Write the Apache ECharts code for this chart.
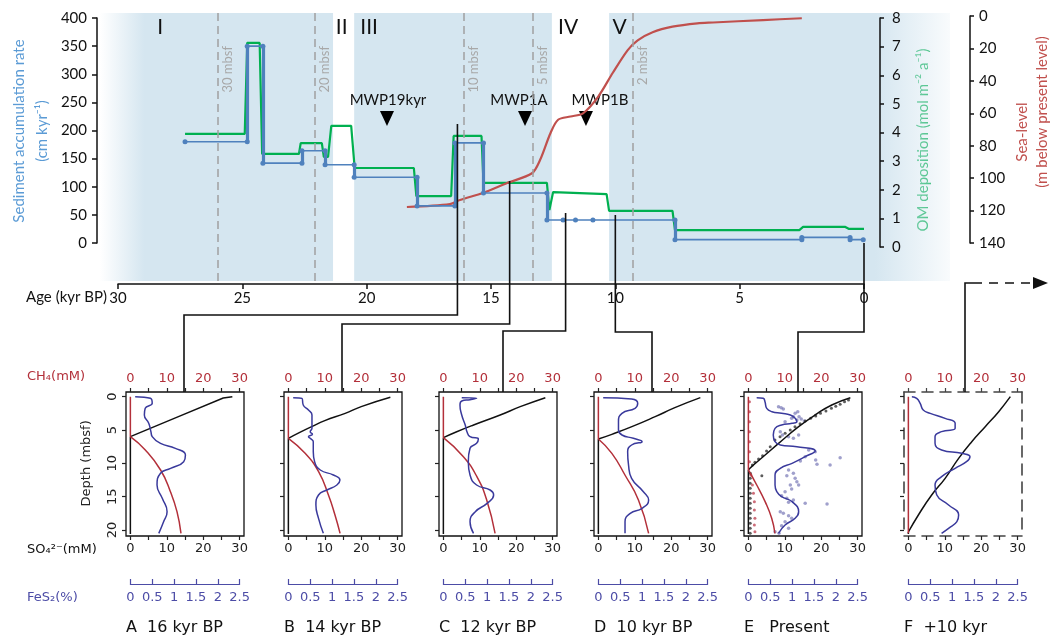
<!DOCTYPE html>
<html><head><meta charset="utf-8">
<script src="https://cdn.jsdelivr.net/npm/echarts@6/dist/echarts.min.js"></script>
<style>html,body{margin:0;padding:0;background:#fff}#c{width:1050px;height:641px}</style>
</head><body><div id="c"></div>
<script>
// ===================== DATA =====================
// Top panel (age kyr BP, value)
const sedRate = [[27.3,180],[24.8,180],[24.8,350],[24.17,350],[24.17,142],[22.6,142],[22.6,164],[21.67,164],[21.67,139],[20.5,139],[20.5,117],[17.97,117],[17.97,66],[16.45,66],[16.45,178],[15.3,178],[15.3,89],[12.75,89],[12.75,41],[12.1,41],[11.6,41],[10.9,41],[7.6,41],[7.6,6],[2.5,6],[2.5,10],[0.56,10],[0.56,6],[0.03,6]];
const omDeposition = [[27.3,3.95],[24.9,3.95],[24.8,7.13],[24.3,7.13],[24.2,3.25],[22.72,3.25],[22.65,3.63],[21.8,3.63],[21.72,3.15],[21.55,3.15],[21.42,4.23],[20.62,4.23],[20.48,2.76],[18.1,2.76],[18.0,1.78],[16.6,1.78],[16.5,3.88],[15.38,3.88],[15.3,2.24],[12.75,2.24],[12.65,1.29],[12.5,1.92],[10.35,1.85],[10.25,1.26],[7.7,1.26],[7.6,0.59],[2.6,0.59],[2.45,0.70],[0.75,0.70],[0.6,0.63],[0.0,0.63]];
const seaLevel = [[18.38,117.8],[16.65,116],[16.25,113.5],[15.3,109],[14.35,103],[13.35,97],[13.03,89],[12.6,72],[12.3,64],[11.8,62],[11.3,60],[10.7,50],[10.1,35],[9.5,21],[9.1,15],[8.5,10],[7.7,6.6],[6.7,4.5],[6.07,4.0],[4.06,2.5],[2.5,1.4]];
const ageTicks = [0,5,10,15,20,25,30];
const periodNames = ['I','II','III','IV','V'];
const periodAges = [28.3,21.0,19.9,11.9,9.83];
const shadedPeriods = [[30.72,21.35],[20.5,12.55],[10.25,-3.46]];
const depthMarkerAges = [26.0,22.1,16.08,13.3,9.29];
const depthMarkerLabels = ['30 mbsf','20 mbsf','10 mbsf','5 mbsf','2 mbsf'];
const mwpNames = ['MWP19kyr','MWP1A','MWP1B'];
const mwpAges = [19.18,13.63,11.18];

// Bottom panels ([value, depth mbsf])
const panelTitles = ['A  16 kyr BP','B  14 kyr BP','C  12 kyr BP','D  10 kyr BP','E   Present','F  +10 kyr'];
const panelAges = [16.35,14.25,12.0,10.0,0.0,null];
const coreDepth = 20.6;
const so4A = [[28,0],[25.5,0.2],[12.7,3.1],[0,6]];
const so4B = [[28,0.1],[20,1.5],[15.6,2.5],[10,3.6],[6.4,4.5],[3,5.4],[0,6.25]];
const so4C = [[28,0.15],[21.1,1.5],[15.6,2.75],[8.3,4.25],[3.5,5.3],[0,6.15]];
const so4D = [[28,0.15],[21,1.65],[15.6,3],[9.2,4.5],[3.7,5.65],[0,6.35]];
const so4E = [[28,0.15],[22.9,1.25],[18.3,2.75],[13.8,4.5],[8.3,7],[4.6,8.75],[0.9,10.5],[0,11]];
const so4F = [[28,0],[24.8,2.25],[21.1,4.5],[17.4,6.75],[13.8,9.25],[10.1,12.25],[6.4,14.75],[2.75,17.75],[0,20.3]];
const ch4A = [[0,6],[4.1,8],[8.3,11],[11,14.25],[12.8,17.25],[13.9,20.5]];
const ch4B = [[0,6.25],[4.6,8.5],[8.3,11.25],[11,14.75],[12.8,17.75],[14.2,20.5]];
const ch4C = [[0,6.15],[5.5,9],[9.2,12],[11.9,15.5],[14.2,20.5]];
const ch4D = [[0,6.35],[3.7,8.5],[7.3,11.75],[11,15.5],[13.8,20.5]];
const ch4E = [[0,11],[2.3,13.25],[4.6,15.75],[6.4,18.25],[7.3,20.5]];
const ch4F = [[0,20.3],[0,20.5]];
const fesA = [[0.11,0],[0.46,0.25],[0.5,1],[0.34,1.75],[0.32,2.75],[0.42,4],[0.47,5.25],[0.5,6],[0.69,7],[1.03,7.75],[1.26,8.75],[1.22,9.75],[0.92,10.75],[0.69,11.5],[0.61,13.25],[0.73,15.25],[0.84,17.25],[0.76,18.75],[0.65,20.5]];
const fesB = [[0.11,0.15],[0.31,0.25],[0.34,1.25],[0.46,2],[0.54,2.75],[0.54,3.75],[0.54,4.75],[0.5,5.25],[0.55,5.65],[0.46,6],[0.5,6.25],[0.57,6.75],[0.57,8.25],[0.6,9.75],[0.73,11],[1.03,11.75],[1.18,12.5],[1.11,13.25],[0.88,14],[0.69,14.75],[0.63,16.25],[0.69,18.25],[0.8,20.5]];
const fesC = [[0.42,0.15],[0.76,0.25],[0.61,0.45],[0.42,0.65],[0.38,1.25],[0.42,2.75],[0.5,4.25],[0.54,5.25],[0.61,6],[0.8,6.35],[0.76,7],[0.61,7.75],[0.57,9.75],[0.61,11.75],[0.76,13.25],[1.07,14],[1.15,14.75],[1.0,16],[0.73,17.25],[0.61,18.75],[0.69,20.5]];
const fesD = [[0.11,0.15],[0.76,0.35],[0.9,1],[0.84,1.75],[0.54,2.5],[0.46,3.75],[0.46,5],[0.54,5.75],[0.8,6.25],[1.0,6.75],[0.76,7.25],[0.67,8.25],[0.69,10.25],[0.76,12.25],[1.03,14.25],[1.15,15.5],[1.0,16.75],[0.73,17.5],[0.61,18.75],[0.61,20.5]];
const fesE = [[0.19,0.15],[0.34,0.25],[0.38,0.75],[0.42,1.75],[0.54,2.25],[0.76,2.5],[0.96,2.75],[1.07,3.25],[1.11,3.75],[1.0,4],[0.76,4.25],[0.61,4.75],[0.57,5.75],[0.61,6.75],[0.73,7.25],[1.11,7.5],[1.53,8.15],[1.3,9],[1.0,10],[0.73,10.75],[0.61,11.75],[0.61,13.25],[0.65,14.25],[0.76,15],[1.0,15.75],[1.15,17.25],[1.07,18.25],[0.84,19.25],[0.69,20.5]];
const fesF = [[0.08,0],[0.19,0.25],[0.27,1],[0.34,2],[0.5,2.5],[0.84,3.25],[1.07,4],[1.07,4.75],[0.76,5.25],[0.61,6],[0.61,7],[0.76,8],[1.22,8.5],[1.41,9],[1.33,9.75],[1.07,10.75],[0.76,12],[0.61,13.25],[0.65,14.75],[0.92,16.25],[1.15,17.75],[1.11,18.75],[0.92,19.75],[0.76,20.5]];
const fesDotsE = [[0.69,1.5],[0.75,1.65],[0.8,1.85],[1.07,2.5],[1.13,2.25],[1.03,3.0],[1.16,3.0],[0.99,3.25],[1.11,3.5],[1.21,3.35],[1.28,3.65],[0.84,3.75],[0.73,5.25],[0.78,5.75],[0.92,6.0],[1.03,6.25],[1.15,5.75],[1.38,8.0],[1.53,8.25],[1.54,9.5],[1.3,9.0],[1.19,9.65],[1.57,10.15],[1.87,10.25],[2.1,9.15],[0.92,11],[1.03,11.5],[0.88,11.85],[1.07,12.25],[1.11,12.75],[1.15,13.25],[0.96,13.25],[0.99,13.85],[0.84,14.25],[0.76,14.85],[0.88,15.25],[1.03,15.5],[0.92,15.85],[1.3,16.0],[1.8,16.1],[0.73,17.25],[0.8,17.5],[0.92,17.85],[0.99,18.25],[0.84,18.75],[0.76,19.35],[0.92,19.75],[0.61,20.25],[0.7,20.5]];
const so4DotsE = [[27.5,0.5],[26.4,0.75],[25.2,1.15],[24,1.45],[22.8,1.75],[21.3,2.15],[19.8,2.5],[18.5,2.9],[17.1,3.25],[15.6,3.65],[14.2,4.05],[12.8,4.5],[11.5,5.0],[10.1,5.5],[8.7,6.0],[7.3,6.5],[6.0,7.5],[5.0,8.15],[3.9,8.85],[2.8,9.35],[1.8,9.85],[1.1,10.25],[3.7,11.85],[0.55,11.5],[0.5,12.25],[0.5,13],[0.5,13.75],[0.5,14.5],[0.5,15.25],[0.5,16],[0.5,16.75],[0.5,17.5],[0.5,18.25],[0.5,19],[0.5,19.75],[0.5,20.5]];
const ch4DotsE = [[0.3,0.75],[0.3,2.25],[0.3,3.75],[0.3,5.25],[0.3,6.75],[0.3,8.25],[0.3,9.75],[0.7,11.75],[1.1,13.25],[1.4,14.5],[1.65,15.75],[1.65,17],[1.8,18.25],[1.65,19.25],[1.8,20.25]];

// ===================== LAYOUT / STYLE =====================
const FT = 'Lato, "Open Sans", sans-serif';
const FB = '"DejaVu Sans", sans-serif';
const BLUE = '#4f81bd', GREEN = '#00b050', RED = '#c0504d', SHADE = '#d5e6f0';
const PRED = '#b3303a', PBLUE = '#3a3a9c', PBLUE_L = '#4c4ca6';
const K = 24.87, X0 = 864;                 // px per kyr, px of age 0
const ageAt = px => (X0 - px) / K;
const BX = [126,284,439,594,744,904], BOX_TOP = 392, BOX_W = 118, BOX_H = 144;
const X_MIN = -1.2, X_MAX = 31.2, D_MIN = -0.7, D_MAX = 20.9;
const pxX = BOX_W / (X_MAX - X_MIN), pxD = BOX_H / (D_MAX - D_MIN);
const padX = -X_MIN * pxX, padTop = -D_MIN * pxD;
const dispW = 30 * pxX, dispH = 20 * pxD, padBot = BOX_H - padTop - dispH;
const CONN_DX = [58,58,64,58,54,61];
const CONN_TOPY = [124,181,213,215,243];
const CONN_MIDY = [315,324,331,332,332];
const MWP_LABEL_DX = [1,-6,14];

function hid(extra){ return Object.assign({type:'value', show:false, splitLine:{show:false}, axisLine:{onZero:false}}, extra); }
const G = o => Object.assign({outerBoundsMode:'none', containLabel:false}, o);

const grids = [], xAxes = [], yAxes = [], series = [];
// 0 background
grids.push(G({left:100, right:100, top:13, height:268}));
xAxes.push(hid({gridIndex:0, min:ageAt(950), max:ageAt(100), inverse:true}));
yAxes.push(hid({gridIndex:0, min:0, max:1}));
// 1 sediment rate
grids.push(G({left:97, right:100, top:18, height:225}));
xAxes.push(hid({gridIndex:1, min:ageAt(950), max:ageAt(97), inverse:true}));
const axLine = {show:true, onZero:false, lineStyle:{color:'#111', width:1.5}};
const axTick = len => ({show:true, length:len, lineStyle:{color:'#111', width:1.5}});
yAxes.push({gridIndex:1, z:20, type:'value', min:0, max:400, interval:50, position:'left',
  axisLine:axLine, axisTick:axTick(5), splitLine:{show:false},
  axisLabel:{fontSize:15, fontFamily:FT, color:'#111', margin:10, showMinLabel:true, showMaxLabel:true}});
// 2 OM deposition
grids.push(G({left:100, right:170, top:18, height:229}));
xAxes.push(hid({gridIndex:2, min:ageAt(880), max:ageAt(100), inverse:true}));
yAxes.push({gridIndex:2, z:20, type:'value', min:0, max:8, interval:1, position:'right',
  axisLine:axLine, axisTick:axTick(4), splitLine:{show:false},
  axisLabel:{fontSize:15, fontFamily:FT, color:'#111', margin:12, showMinLabel:true, showMaxLabel:true}});
// 3 sea level
grids.push(G({left:100, right:80, top:16, height:227}));
xAxes.push(hid({gridIndex:3, min:ageAt(970), max:ageAt(100), inverse:true}));
yAxes.push({gridIndex:3, z:20, type:'value', min:0, max:140, interval:20, inverse:true, position:'right',
  axisLine:axLine, axisTick:axTick(4), splitLine:{show:false},
  axisLabel:{fontSize:15, fontFamily:FT, color:'#111', margin:9, showMinLabel:true, showMaxLabel:true}});
// 4 age axis
grids.push(G({left:118, right:186, top:270, height:14}));
xAxes.push({gridIndex:4, z:20, type:'value', min:0, max:30, interval:5, inverse:true, position:'bottom',
  axisLine:axLine, axisTick:axTick(5), splitLine:{show:false},
  axisLabel:{fontSize:15, fontFamily:FT, color:'#111', margin:7, showMinLabel:true, showMaxLabel:true}});
yAxes.push(hid({gridIndex:4, min:0, max:1}));

// ---- top series ----
const gradL = {type:'linear', x:0, y:0, x2:1, y2:0, colorStops:[{offset:0,color:'rgba(213,230,240,0)'},{offset:0.19,color:SHADE},{offset:1,color:SHADE}]};
const gradR = {type:'linear', x:0, y:0, x2:1, y2:0, colorStops:[{offset:0,color:SHADE},{offset:0.78,color:SHADE},{offset:1,color:'rgba(213,230,240,0.15)'}]};
series.push({type:'custom', xAxisIndex:0, yAxisIndex:0, z:1, silent:true, clip:false,
  data: periodAges.map(a => [a, 0.5]),
  renderItem: (params, api) => {
    const x = api.coord([api.value(0), 0.5])[0];
    return {type:'text', x:x, y:27, style:{text:periodNames[params.dataIndex], fill:'#111', fontSize:21, fontFamily:FT,
      align:'center', verticalAlign:'middle', textAlign:'center', textVerticalAlign:'middle'}};
  },
  markArea:{silent:true, data: shadedPeriods.map((s,i) => [{xAxis:s[0], itemStyle:{color: i===0?gradL:(i===2?gradR:SHADE)}}, {xAxis:s[1]}])},
  markLine:{silent:true, symbol:['none','none'], label:{show:false},
    lineStyle:{color:'#a0a0a0', width:1.5, type:[8,5]}, data: depthMarkerAges.map(a => ({xAxis:a}))}
});
series.push({type:'custom', xAxisIndex:0, yAxisIndex:0, z:2, silent:true, clip:false,
  data: depthMarkerAges.map(a => [a, 0.5]),
  renderItem: (params, api) => {
    const x = api.coord([api.value(0), 0.5])[0];
    return {type:'text', x:x+10, y:46, rotation:Math.PI/2, style:{text:depthMarkerLabels[params.dataIndex], fill:'#a8a8a8', fontSize:13, fontFamily:FT,
      align:'right', verticalAlign:'middle', textAlign:'right', textVerticalAlign:'middle'}};
  }
});
series.push({type:'custom', xAxisIndex:0, yAxisIndex:0, z:2, silent:true, clip:false,
  data: mwpAges.map(a => [a, 0.5]),
  renderItem: (params, api) => {
    const i = params.dataIndex;
    const x = api.coord([api.value(0), 0.5])[0];
    return {type:'group', children:[
      {type:'text', x:x+MWP_LABEL_DX[i], y:100, style:{text:mwpNames[i], fill:'#111', fontSize:15, fontFamily:FT,
        align:'center', verticalAlign:'middle', textAlign:'center', textVerticalAlign:'middle'}},
      {type:'polygon', shape:{points:[[x-7,111],[x+7,111],[x,126]]}, style:{fill:'#000'}}
    ]};
  }
});
series.push({type:'line', xAxisIndex:2, yAxisIndex:2, z:3, data:omDeposition, symbol:'none', lineStyle:{color:GREEN, width:2.2}, silent:true, animation:false});
series.push({type:'line', xAxisIndex:3, yAxisIndex:3, z:4, data:seaLevel, symbol:'none', smooth:0.3, lineStyle:{color:RED, width:2.2}, silent:true, animation:false});
const sedVerticals = [];
for (let i = 1; i < sedRate.length; i++) if (sedRate[i][0] === sedRate[i-1][0]) sedVerticals.push({coords:[sedRate[i-1], sedRate[i]]});
series.push({type:'lines', coordinateSystem:'cartesian2d', xAxisIndex:1, yAxisIndex:1, z:5, data:sedVerticals, silent:true,
  lineStyle:{color:BLUE, width:3.2, opacity:1}, effect:{show:false}});
series.push({type:'line', xAxisIndex:1, yAxisIndex:1, z:6, data:sedRate, symbol:'circle', symbolSize:5, itemStyle:{color:BLUE},
  lineStyle:{color:BLUE, width:1.6}, silent:true, animation:false});

// ---- bottom panels ----
const so4s = [so4A,so4B,so4C,so4D,so4E,so4F];
const ch4s = [ch4A,ch4B,ch4C,ch4D,ch4E,ch4F];
const fess = [fesA,fesB,fesC,fesD,fesE,fesF];
const dash = {show:true, onZero:false, lineStyle:{color:'#444', width:1.6, type:[11,7]}};
const offAx = {show:false};
for (let p = 0; p < 6; p++) {
  const bx = BX[p], isF = p === 5;
  const gBox = grids.length;
  grids.push(G({left:bx, top:BOX_TOP, width:BOX_W, height:BOX_H, show:!isF, borderColor:'#111', borderWidth:1.3, backgroundColor:'transparent'}));
  const gDisp = grids.length;
  grids.push(G({left:bx+padX, top:BOX_TOP+padTop, width:dispW, height:dispH}));
  const gFes = grids.length;
  grids.push(G({left:bx+padX, top:574, width:dispW, height:10}));
  const xiSo4 = xAxes.length;
  xAxes.push({gridIndex:gBox, type:'value', min:X_MIN, max:X_MAX, position:'bottom', show:isF, axisLine:isF?dash:{onZero:false},
    axisTick:offAx, axisLabel:offAx, splitLine:offAx});
  const xiFes = xAxes.length;
  xAxes.push({gridIndex:gBox, type:'value', min:X_MIN/12, max:X_MAX/12, position:'top', show:isF, axisLine:isF?dash:{onZero:false},
    axisTick:offAx, axisLabel:offAx, splitLine:offAx});
  const tk = c => ({show:true, length:4, lineStyle:{color:c, width:1.2}});
  xAxes.push({gridIndex:gDisp, type:'value', min:0, max:30, interval:5, position:'bottom', offset:padBot,
    axisLine:{show:false, onZero:false}, axisTick:tk('#222'), splitLine:offAx,
    axisLabel:{fontSize:13, fontFamily:FB, color:'#222', margin:6, showMinLabel:true, showMaxLabel:true, formatter:v => (v % 10 === 0 ? String(v) : '')}});
  xAxes.push({gridIndex:gDisp, type:'value', min:0, max:30, interval:5, position:'top', offset:padTop,
    axisLine:{show:false, onZero:false}, axisTick:tk(isF ? '#444' : '#222'), splitLine:offAx,
    axisLabel:{fontSize:13, fontFamily:FB, color:PRED, margin:7, showMinLabel:true, showMaxLabel:true, formatter:v => (v % 10 === 0 ? String(v) : '')}});
  xAxes.push({gridIndex:gFes, type:'value', min:0, max:2.5, interval:0.5, position:'bottom',
    axisLine:{show:true, onZero:false, lineStyle:{color:PBLUE_L, width:1.2}}, axisTick:{show:true, inside:true, length:5, lineStyle:{color:PBLUE_L, width:1.2}},
    splitLine:offAx, axisLabel:{fontSize:13, fontFamily:FB, color:PBLUE_L, margin:7, showMinLabel:true, showMaxLabel:true}});
  const yiD = yAxes.length;
  yAxes.push({gridIndex:gBox, type:'value', min:D_MIN, max:D_MAX, inverse:true, position:'left', show:isF, axisLine:isF?dash:{onZero:false},
    axisTick:offAx, axisLabel:offAx, splitLine:offAx});
  yAxes.push({gridIndex:gDisp, type:'value', min:0, max:20, interval:5, inverse:true, position:'left', offset:padX,
    axisLine:{show:false, onZero:false}, axisTick:tk('#222'), splitLine:offAx,
    axisLabel:{show:p===0, rotate:90, fontSize:13, fontFamily:FB, color:'#222', margin:7, showMinLabel:true, showMaxLabel:true},
    name: p===0 ? 'Depth (mbsf)' : '', nameLocation:'middle', nameRotate:90, nameGap:33, nameTextStyle:{fontSize:13, fontFamily:FB, color:'#222'}});
  yAxes.push(hid({gridIndex:gFes, min:0, max:1}));
  if (isF) yAxes.push({gridIndex:gBox, type:'value', min:D_MIN, max:D_MAX, inverse:true, position:'right', show:true, axisLine:dash,
    axisTick:offAx, axisLabel:offAx, splitLine:offAx});
  const L = (data, xi, color, extra) => Object.assign({type:'line', xAxisIndex:xi, yAxisIndex:yiD, data:data, symbol:'none',
    lineStyle:{color:color, width:1.5}, silent:true, animation:false, z:5}, extra||{});
  const so4 = so4s[p], ch4 = ch4s[p];
  series.push(L([[0, so4[so4.length-1][1]], [0, coreDepth]], xiSo4, '#111'));
  series.push(L(so4, xiSo4, '#111', {smooth: p === 0 ? false : 0.5}));
  series.push(L([[0, 0], [0, ch4[0][1]]], xiSo4, PRED));
  series.push(L(ch4, xiSo4, PRED, {smooth:0.5}));
  series.push(L(fess[p], xiFes, PBLUE, {smooth:0.5, z:6}));
  if (p === 4) {
    const S = (data, xi, color, size) => ({type:'scatter', xAxisIndex:xi, yAxisIndex:yiD, data:data, symbolSize:size,
      itemStyle:{color:color}, silent:true, animation:false, z:4});
    series.push(S(fesDotsE, xiFes, 'rgba(96,96,170,0.75)', 3.5));
    series.push(S(so4DotsE, xiSo4, '#333', 3));
    series.push(S(ch4DotsE, xiSo4, '#c04858', 3));
  }
}

const option = {
  backgroundColor:'#fff', animation:false,
  grid:grids, xAxis:xAxes, yAxis:yAxes, series:series
};
const chart = echarts.init(document.getElementById('c'), null, {renderer:'canvas'});
chart.setOption(option);

// ---- annotation graphics (text + connectors) ----
const txt = (x, y, text, o) => ({type:'text', x:x, y:y, rotation:(o && o.rot) || 0, silent:true,
  style:Object.assign({text:text, fill:'#111', fontSize:15, fontFamily:FT, align:'center', verticalAlign:'middle',
    textAlign:'center', textVerticalAlign:'middle'}, (o && o.style) || {})});
const graphics = [
  txt(31, 131, 'Sediment accumulation rate\n(cm kyr\u207B\u00B9)', {rot:Math.PI/2, style:{fill:'#5b9bd5', fontSize:15, lineHeight:23}}),
  txt(923, 140, 'OM deposition (mol m\u207B\u00B2 a\u207B\u00B9)', {rot:Math.PI/2, style:{fill:GREEN, fontSize:15}}),
  txt(1022, 132, 'Sea-level', {rot:Math.PI/2, style:{fill:RED, fontSize:15}}),
  txt(1042, 112, '(m below present level)', {rot:Math.PI/2, style:{fill:RED, fontSize:15}}),
  txt(107, 297, 'Age (kyr BP)', {style:{align:'right', textAlign:'right'}}),
  txt(27, 377, 'CH\u2084(mM)', {style:{fill:PRED, fontSize:13, fontFamily:FB, align:'left', textAlign:'left'}}),
  txt(27, 550, 'SO\u2084\u00B2\u207B(mM)', {style:{fill:'#111', fontSize:13, fontFamily:FB, align:'left', textAlign:'left'}}),
  txt(27, 598, 'FeS\u2082(%)', {style:{fill:PBLUE_L, fontSize:13, fontFamily:FB, align:'left', textAlign:'left'}})
];
panelTitles.forEach((t, p) => graphics.push(txt(BX[p], 628, t, {style:{fontSize:16, fontFamily:FB, align:'left', textAlign:'left'}})));
const conn = {stroke:'#111', lineWidth:1.6, fill:null};
panelAges.forEach((a, p) => {
  if (a === null) return;
  const x = chart.convertToPixel({xAxisIndex:4}, a);
  const bxc = BX[p] + CONN_DX[p];
  graphics.push({type:'polyline', silent:true, z:50, shape:{points:[[x, CONN_TOPY[p]], [x, CONN_MIDY[p]], [bxc, CONN_MIDY[p]], [bxc, BOX_TOP]]}, style:conn});
});
const fx = BX[5] + CONN_DX[5];
graphics.push({type:'polyline', silent:true, z:50, shape:{points:[[fx, BOX_TOP], [fx, 283], [973, 283]]}, style:conn});
graphics.push({type:'line', silent:true, z:50, shape:{x1:973, y1:283, x2:1034, y2:283}, style:{stroke:'#111', lineWidth:1.6, lineDash:[9,7]}});
graphics.push({type:'polygon', silent:true, z:50, shape:{points:[[1033,277],[1048,283],[1033,289]]}, style:{fill:'#111'}});
chart.setOption({graphic:graphics});
</script>
</body></html>
